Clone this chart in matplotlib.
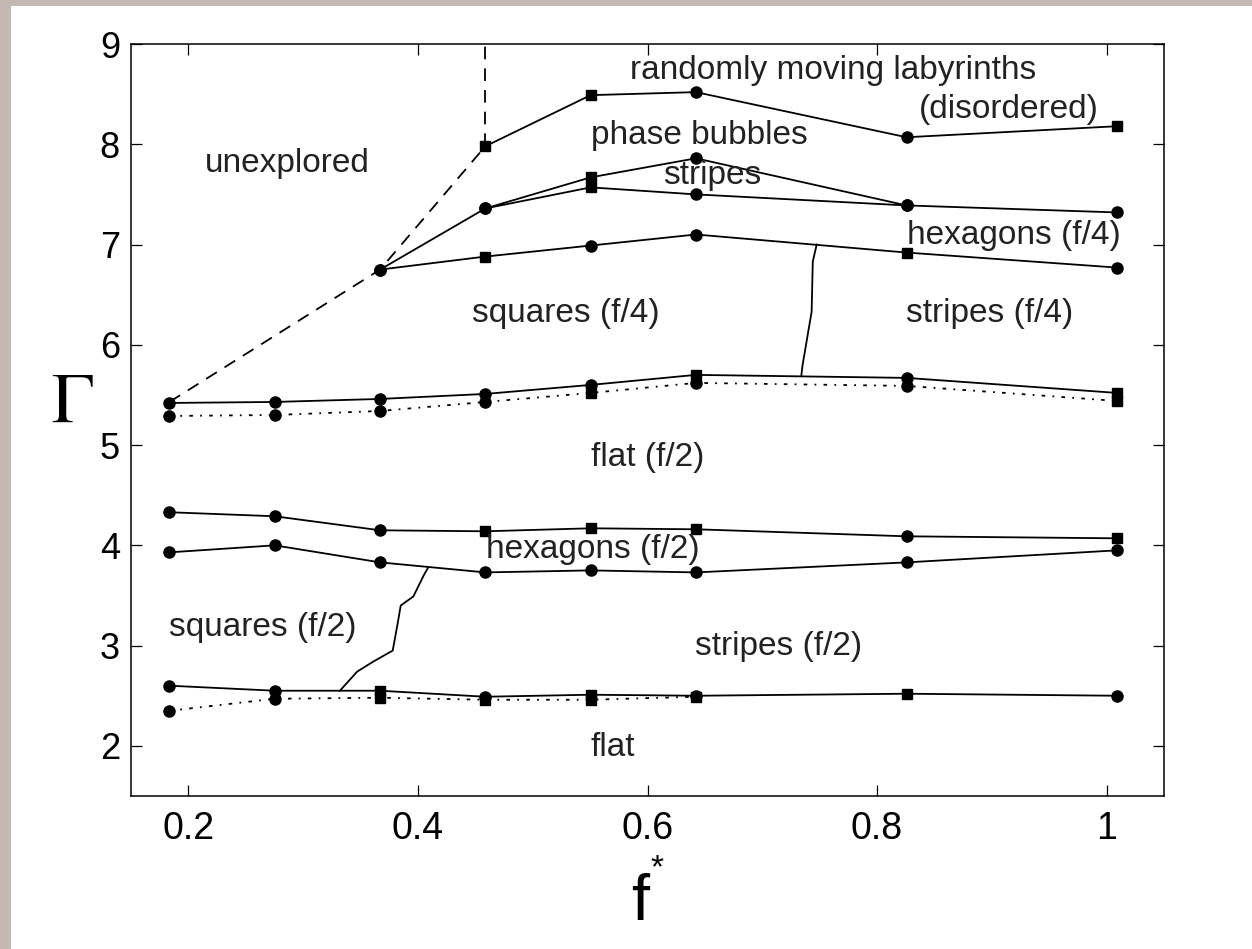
import numpy as np
import matplotlib.pyplot as plt
from matplotlib.patches import Rectangle

plt.rcParams['font.family'] = ['Liberation Sans', 'DejaVu Sans']

# driving frequency values (f*) where the boundaries were measured
fstar = np.array([0.1835, 0.2752, 0.3670, 0.4587, 0.5505, 0.6422, 0.8257, 1.0092])

# phase boundaries, Gamma values (index ranges into fstar)
labyrinth = [7.98, 8.49, 8.52, 8.07, 8.18]                 # fstar[3:]
bubbles_top = [7.36, 7.67, 7.86, 7.39]                     # fstar[3:7]
stripes_low = [6.75, 7.36, 7.57, 7.50, 7.39, 7.32]         # fstar[2:]
hex4_low = [6.75, 6.88, 6.99, 7.10, 6.92, 6.77]            # fstar[2:]
sq4_low = [5.42, 5.43, 5.46, 5.51, 5.60, 5.70, 5.67, 5.52]
sq4_low_dot = [5.29, 5.30, 5.34, 5.43, 5.52, 5.62, 5.59, 5.44]
hex2_top = [4.33, 4.29, 4.15, 4.14, 4.17, 4.16, 4.09, 4.07]
hex2_low = [3.93, 4.00, 3.83, 3.73, 3.75, 3.73, 3.83, 3.95]
sq2_low = [2.60, 2.55, 2.55, 2.49, 2.51, 2.50, 2.52, 2.50]
sq2_low_dot = [2.35, 2.47, 2.48, 2.46, 2.46, 2.49]         # fstar[:6]

# unexplored edge (dashed)
unexp_f = [0.1835, 0.3670, 0.4587]
unexp_g = [5.43, 6.75, 7.98]

# squares / stripes (f/4) boundary
b4_f = [0.7474, 0.744, 0.743, 0.739, 0.735, 0.734]
b4_g = [7.00, 6.83, 6.33, 6.06, 5.79, 5.69]

# squares / stripes (f/2) boundary
b2_f = [0.332, 0.347, 0.361, 0.378, 0.382, 0.385, 0.396, 0.405, 0.409]
b2_g = [2.55, 2.74, 2.84, 2.95, 3.20, 3.40, 3.49, 3.70, 3.78]

fig = plt.figure(figsize=(12.52, 9.49), dpi=100)
fig.patch.set_facecolor('#c3b8b2')
fig.patches.append(Rectangle((11 / 1252, 0), 1, 1 - 6 / 949, transform=fig.transFigure,
                             facecolor='white', edgecolor='none', zorder=-5))
ax = fig.add_axes([131 / 1252, 1 - 796 / 949, (1164 - 131) / 1252, (796 - 44) / 949])

lw = 1.3
dotted = (0, (2, 4, 1, 4))


def boundary(f, g, marks, ls='-'):
    ax.plot(f, g, color='k', lw=lw, ls=ls)
    for x, y, m in zip(f, g, marks):
        ax.plot(x, y, marker=m, color='k', ms=8 if m == 'o' else 7, ls='none')


boundary(fstar[3:], labyrinth, 'ssoos')
boundary(fstar[3:7], bubbles_top, 'osoo')
boundary(fstar[2:], stripes_low, 'oosooo')
boundary(fstar[2:], hex4_low, 'osoosoo')
boundary(fstar, sq4_low, 'ooooosos')
boundary(fstar, sq4_low_dot, 'oooosoos', ls=dotted)
boundary(fstar, hex2_top, 'ooosssos')
boundary(fstar, hex2_low, 'oooooooo')
boundary(fstar, sq2_low, 'oosososo')
boundary(fstar[:6], sq2_low_dot, 'oossss', ls=dotted)

ax.plot(unexp_f, unexp_g, color='k', lw=lw, ls=(0, (7, 5)))
ax.plot([unexp_f[-1], unexp_f[-1]], [unexp_g[-1], 9], color='k', lw=lw, ls=(0, (7, 5)))
ax.plot(b4_f, b4_g, color='k', lw=lw)
ax.plot(b2_f, b2_g, color='k', lw=lw)

labels = [
    ('randomly moving labyrinths', 0.762, 8.65),
    ('(disordered)', 0.915, 8.26),
    ('phase bubbles', 0.645, 8.00),
    ('stripes', 0.656, 7.60),
    ('unexplored', 0.286, 7.72),
    ('hexagons (f/4)', 0.919, 7.01),
    ('squares (f/4)', 0.529, 6.23),
    ('stripes (f/4)', 0.898, 6.23),
    ('flat (f/2)', 0.600, 4.79),
    ('hexagons (f/2)', 0.552, 3.87),
    ('squares (f/2)', 0.265, 3.10),
    ('stripes (f/2)', 0.714, 2.91),
    ('flat', 0.570, 1.90),
]
for txt, x, y in labels:
    ax.text(x, y, txt, fontsize=24, color='#222222', ha='center', va='baseline')

ax.set_xlim(0.15, 1.05)
ax.set_ylim(1.5, 9)
ax.set_xticks([0.2, 0.4, 0.6, 0.8, 1.0])
ax.set_xticklabels(['0.2', '0.4', '0.6', '0.8', '1'])
ax.set_yticks(range(2, 10))
ax.tick_params(direction='in', length=8, width=0.9, top=True, right=True, colors='k')
ax.tick_params(axis='x', labelsize=27, pad=11)
ax.tick_params(axis='y', labelsize=26, pad=8)
for s in ax.spines.values():
    s.set_linewidth(1.1)

fig.text(72 / 1252, 1 - 422 / 949, r'$\Gamma$', fontsize=51, ha='center', va='baseline',
         math_fontfamily='stix')
fig.text(640 / 1252, 1 - 920 / 949, 'f', fontsize=47, ha='center', va='baseline')
fig.text(657 / 1252, 1 - 877 / 949, '*', fontsize=24, ha='center', va='baseline')

plt.savefig('out.png', dpi=100)
